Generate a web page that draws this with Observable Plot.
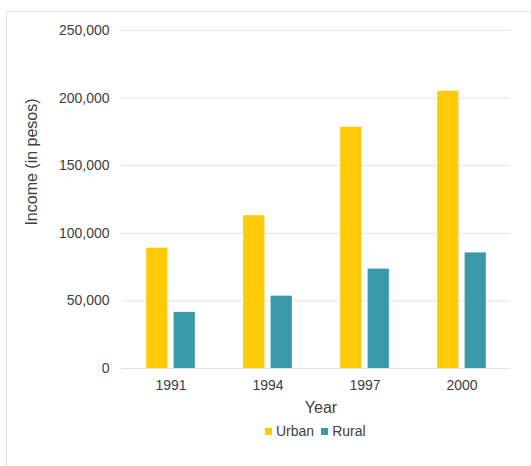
<!DOCTYPE html>
<html>
<head>
<meta charset="utf-8">
<script src="https://cdn.jsdelivr.net/npm/d3@7"></script>
<script src="https://cdn.jsdelivr.net/npm/@observablehq/plot@0.6"></script>
<style>
  html, body { margin: 0; padding: 0; background: #fff; }
  body { font-family: "Liberation Sans", Arial, sans-serif; color: #404040; }
  #wrap { position: relative; width: 531px; height: 466px; overflow: hidden; }
  #frame { position: absolute; left: 6px; top: 11px; width: 540px; height: 470px;
           border-left: 1px solid #dfdfdf; border-top: 1px solid #e4e4e4; }
  #chart { position: absolute; left: 0; top: 0; }
  #ylabel { position: absolute; left: 32px; top: 162px; font-size: 16px; white-space: nowrap;
            transform: translate(-50%, -50%) rotate(-90deg); color: #404040; }
  #xlabel { position: absolute; left: 321px; top: 400px; font-size: 16px; line-height: 16px;
            transform: translateX(-50%); white-space: nowrap; color: #404040; }
  #legend { position: absolute; left: 265px; top: 424px; display: flex; align-items: center;
            font-size: 14px; line-height: 14px; color: #404040; }
  .item { display: flex; align-items: center; margin-right: 7px; }
  .sw { width: 7px; height: 7px; margin-right: 4px; }
</style>
</head>
<body>
<div id="wrap">
  <div id="frame"></div>
  <div id="chart"></div>
  <div id="ylabel">Income (in pesos)</div>
  <div id="xlabel">Year</div>
  <div id="legend"></div>
</div>
<script>
const years = ["1991", "1994", "1997", "2000"];
const urban = [89000, 113000, 178500, 205000];
const rural = [41500, 53500, 73500, 85500];
const seriesNames = ["Urban", "Rural"];
const seriesColors = ["#FFCA08", "#3A98AB"];
const yTicks = [0, 50000, 100000, 150000, 200000, 250000];

const table = years.flatMap((yr, i) => [
  {year: yr, series: seriesNames[0], value: urban[i]},
  {year: yr, series: seriesNames[1], value: rural[i]}
]);

const chart = Plot.plot({
  width: 531,
  height: 420,
  marginTop: 30,
  marginBottom: 52,
  marginLeft: 121,
  marginRight: 21,
  style: {fontFamily: '"Liberation Sans", Arial, sans-serif', fontSize: "14px", color: "#404040", background: "transparent"},
  x: {domain: years, padding: 0, label: null, tickSize: 0, tickPadding: 12},
  y: {domain: [0, 250000], ticks: yTicks, tickFormat: d3.format(","), tickSize: 0, tickPadding: 12, label: null},
  color: {domain: seriesNames, range: seriesColors},
  marks: [
    Plot.ruleY(yTicks, {stroke: "#e2e2e2", strokeWidth: 1}),
    Plot.barY(table.filter(d => d.series === seriesNames[0]),
      {x: "year", y: "value", fill: "series", insetLeft: 24.2, insetRight: 51.55}),
    Plot.barY(table.filter(d => d.series === seriesNames[1]),
      {x: "year", y: "value", fill: "series", insetLeft: 51.6, insetRight: 24.15})
  ]
});
document.getElementById("chart").appendChild(chart);

const legend = document.getElementById("legend");
seriesNames.forEach((name, i) => {
  const item = document.createElement("div");
  item.className = "item";
  const sw = document.createElement("div");
  sw.className = "sw";
  sw.style.background = seriesColors[i];
  const t = document.createElement("span");
  t.textContent = name;
  item.appendChild(sw);
  item.appendChild(t);
  legend.appendChild(item);
});
</script>
</body>
</html>
